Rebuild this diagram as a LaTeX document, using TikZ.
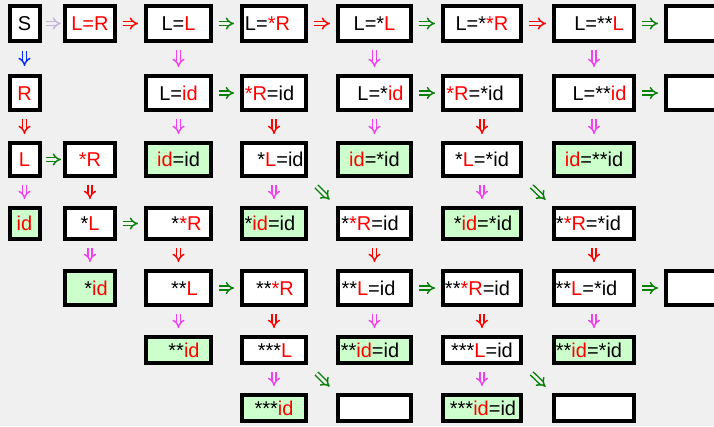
\documentclass[tikz,border=0pt]{standalone}
\usepackage{fontspec}
\setmainfont{Liberation Sans}
\usetikzlibrary{arrows.meta}
\definecolor{bg}{RGB}{240,240,240}
\definecolor{gfill}{RGB}{204,255,204}
\definecolor{cred}{RGB}{255,0,0}
\definecolor{cgreen}{RGB}{10,128,10}
\definecolor{cmag}{RGB}{240,64,240}
\definecolor{cblue}{RGB}{0,40,255}
\definecolor{clav}{RGB}{196,180,216}
\newcommand\rd[1]{\textcolor{cred}{#1}}
% column centres / widths
\expandafter\def\csname xc0\endcsname{24.5}\expandafter\def\csname wc0\endcsname{30}
\expandafter\def\csname xc1\endcsname{90}\expandafter\def\csname wc1\endcsname{50}
\expandafter\def\csname xc2\endcsname{178.5}\expandafter\def\csname wc2\endcsname{65}
\expandafter\def\csname xc3\endcsname{274}\expandafter\def\csname wc3\endcsname{64}
\expandafter\def\csname xc4\endcsname{374.5}\expandafter\def\csname wc4\endcsname{73}
\expandafter\def\csname xc5\endcsname{482}\expandafter\def\csname wc5\endcsname{78}
\expandafter\def\csname xc6\endcsname{594}\expandafter\def\csname wc6\endcsname{80}
\expandafter\def\csname xc7\endcsname{700}\expandafter\def\csname wc7\endcsname{68}
% row centres / heights
\expandafter\def\csname yr0\endcsname{23.5}\expandafter\def\csname hr0\endcsname{35}
\expandafter\def\csname yr1\endcsname{93}\expandafter\def\csname hr1\endcsname{34}
\expandafter\def\csname yr2\endcsname{159.5}\expandafter\def\csname hr2\endcsname{33}
\expandafter\def\csname yr3\endcsname{223.5}\expandafter\def\csname hr3\endcsname{31}
\expandafter\def\csname yr4\endcsname{288}\expandafter\def\csname hr4\endcsname{34}
\expandafter\def\csname yr5\endcsname{350}\expandafter\def\csname hr5\endcsname{26}
\expandafter\def\csname yr6\endcsname{408}\expandafter\def\csname hr6\endcsname{26}
\tikzset{
  box/.style={draw=black, line width=4pt, rectangle, inner sep=0pt},
  txt/.style={inner sep=0pt, font=\fontsize{20}{24}\selectfont, text height=14pt, text depth=0pt},
  arr/.style={double=bg, double distance=2.6pt, line width=1.45pt, -{Implies}},
  harr/.style={arr, shorten <=6pt, shorten >=6pt},
  varr/.style={arr, shorten <=7pt, shorten >=7pt},
  darr/.style={arr, shorten <=12pt, shorten >=9pt},
}
% \bx[fill]{row}{col}{dx}{text}
\newcommand\bx[5][white]{%
  \node[box, fill=#1, minimum width=\csname wc#3\endcsname pt, minimum height=\csname hr#2\endcsname pt]
    (r#2#3) at ({\csname xc#3\endcsname},{\csname yr#2\endcsname}) {};
  \node[txt] (t#2#3) at ([xshift=#4pt]r#2#3.center) {#5};}
\newcommand\ebx[2]{%
  \node[box, fill=white, minimum width=\csname wc#2\endcsname pt, minimum height=\csname hr#1\endcsname pt]
    (r#1#2) at ({\csname xc#2\endcsname},{\csname yr#1\endcsname}) {};}
\begin{document}
\begin{tikzpicture}[x=1pt,y=-1pt]
\clip (0,0) rectangle (714,426);
\fill[bg] (0,0) rectangle (714,426);
% row 0
\bx{0}{0}{0}{S}
\bx{0}{1}{0}{\rd{L=R}}
\bx{0}{2}{0}{L=\rd{L}}
\bx{0}{3}{-6.5}{L=\rd{*R}}
\bx{0}{4}{0}{L=*\rd{L}}
\bx{0}{5}{0}{L=*\rd{*R}}
\bx{0}{6}{5}{L=**\rd{L}}
\ebx{0}{7}
% row 1
\bx{1}{0}{0}{\rd{R}}
\bx{1}{2}{0}{L=\rd{id}}
\bx{1}{3}{-4.5}{\rd{*R}=id}
\bx{1}{4}{6}{L=*\rd{id}}
\bx{1}{5}{-7}{\rd{*R}=*id}
\bx{1}{6}{5.5}{L=**\rd{id}}
\ebx{1}{7}
% row 2
\bx{2}{0}{0}{\rd{L}}
\bx{2}{1}{0}{\rd{*R}}
\bx[gfill]{2}{2}{0}{\rd{id}=id}
\bx{2}{3}{6.5}{*\rd{L}=id}
\bx[gfill]{2}{4}{0}{\rd{id}=*id}
\bx{2}{5}{0}{*\rd{L}=*id}
\bx[gfill]{2}{6}{0}{\rd{id}=**id}
% row 3
\bx[gfill]{3}{0}{0}{\rd{id}}
\bx{3}{1}{0}{*\rd{L}}
\bx{3}{2}{8}{*\rd{*R}}
\bx[gfill]{3}{3}{-4}{*\rd{id}=id}
\bx{3}{4}{-4.5}{*\rd{*R}=id}
\bx[gfill]{3}{5}{1}{*\rd{id}=*id}
\bx{3}{6}{-5.5}{*\rd{*R}=*id}
% row 4
\bx[gfill]{4}{1}{6}{*\rd{id}}
\bx{4}{2}{6}{**\rd{L}}
\bx{4}{3}{1}{**\rd{*R}}
\bx{4}{4}{-6}{**\rd{L}=id}
\bx{4}{5}{-4.5}{**\rd{*R}=id}
\bx{4}{6}{-7.5}{**\rd{L}=*id}
\ebx{4}{7}
% row 5
\bx[gfill]{5}{2}{5.5}{**\rd{id}}
\bx{5}{3}{1}{***\rd{L}}
\bx[gfill]{5}{4}{-4.5}{**\rd{id}=id}
\bx{5}{5}{0}{***\rd{L}=id}
\bx[gfill]{5}{6}{-5}{**\rd{id}=*id}
% row 6
\bx[gfill]{6}{3}{0}{***\rd{id}}
\ebx{6}{4}
\bx[gfill]{6}{5}{1}{***\rd{id}=id}
\ebx{6}{6}
% horizontal connectors
\draw[harr, clav, shorten <=4pt, shorten >=2pt] (r00) -- (r01);
\draw[harr, cred] (r01) -- (r02);
\draw[harr, cgreen] (r02) -- (r03);
\draw[harr, cred] (r03) -- (r04);
\draw[harr, cgreen] (r04) -- (r05);
\draw[harr, cred] (r05) -- (r06);
\draw[harr, cgreen] (r06) -- (r07);
\draw[harr, cgreen] (r12) -- (r13);
\draw[harr, cgreen] (r14) -- (r15);
\draw[harr, cgreen] (r16) -- (r17);
\draw[harr, cgreen, shorten <=4pt, shorten >=2pt] (r20) -- (r21);
\draw[harr, cgreen] (r31) -- (r32);
\draw[harr, cgreen] (r42) -- (r43);
\draw[harr, cgreen] (r44) -- (r45);
\draw[harr, cgreen] (r46) -- (r47);
% vertical connectors
\draw[varr, cblue, shorten <=8pt, shorten >=8pt] (r00) -- (r10);
\draw[varr, cred] (r10) -- (r20);
\draw[varr, cmag] (r20) -- (r30);
\draw[varr, cmag] (r02) -- (r12);
\draw[varr, cmag] (r12) -- (r22);
\draw[varr, cmag] (r04) -- (r14);
\draw[varr, cmag] (r14) -- (r24);
\draw[varr, cmag] (r06) -- (r16);
\draw[varr, cmag] (r16) -- (r26);
\draw[varr, cred] (r13) -- (r23);
\draw[varr, cred] (r15) -- (r25);
\draw[varr, cred] (r21) -- (r31);
\draw[varr, cmag] (r23) -- (r33);
\draw[varr, cmag] (r25) -- (r35);
\draw[varr, cmag] (r31) -- (r41);
\draw[varr, cred] (r32) -- (r42);
\draw[varr, cred] (r34) -- (r44);
\draw[varr, cred] (r36) -- (r46);
\draw[varr, cmag] (r42) -- (r52);
\draw[varr, cred] (r43) -- (r53);
\draw[varr, cmag] (r44) -- (r54);
\draw[varr, cred] (r45) -- (r55);
\draw[varr, cmag] (r46) -- (r56);
\draw[varr, cmag] (r53) -- (r63);
\draw[varr, cmag] (r55) -- (r65);
% diagonal connectors
\draw[darr, cgreen] (r23.south east) -- (r34.north west);
\draw[darr, cgreen] (r25.south east) -- (r36.north west);
\draw[darr, cgreen] (r53.south east) -- (r64.north west);
\draw[darr, cgreen] (r55.south east) -- (r66.north west);
\end{tikzpicture}
\end{document}
